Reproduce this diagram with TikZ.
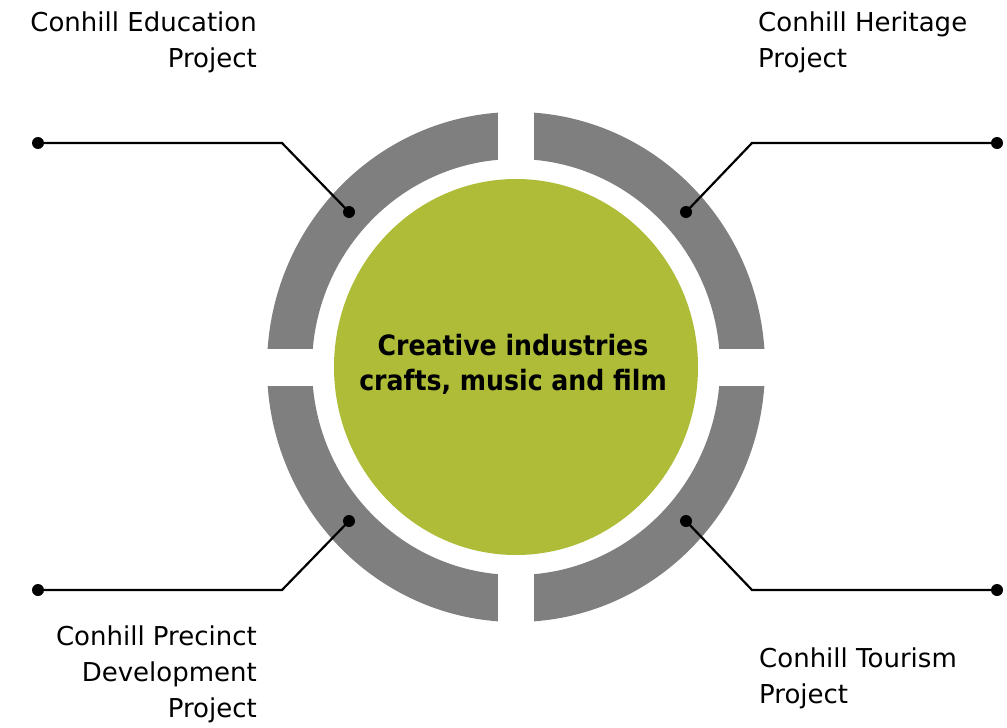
\documentclass[tikz,border=0pt]{standalone}
\usepackage{fontspec}
\setmainfont{DejaVu Sans}
\newfontfamily\hubfont{DejaVu Sans Condensed}
\definecolor{ringgray}{RGB}{127,127,127}
\definecolor{hubgreen}{RGB}{174,188,56}

\begin{document}
\begin{tikzpicture}[x=1pt,y=-1pt,
    proj/.style={inner sep=0pt, font=\fontsize{26}{36}\selectfont},
    hubtext/.style={inner sep=0pt, align=center, font=\hubfont\bfseries\fontsize{28}{35}\selectfont},
    lead/.style={line width=2.2pt, black}]
    % \draw[very thin,color=gray] (0,0) grid[step=50] (1007,728);
    \useasboundingbox (0,0) rectangle (1007,728);
    \coordinate (c) at (516,367);
    %ring
    \fill[ringgray, even odd rule] (c) ellipse [x radius=249, y radius=255] (c) ellipse [x radius=204, y radius=208];
    \fill[white] (498,100) rectangle (534,640);
    \fill[white] (255,349) rectangle (780,386);
    %hub
    \fill[hubgreen] (c) ellipse [x radius=182, y radius=188];
    \node[hubtext, anchor=base] (hub) at (513,390) {Creative industries\\crafts, music and film};
    %leads
    \coordinate (tl-pin) at (349,212);
    \coordinate (tl-bend) at (282,143);
    \coordinate (tl-end) at (38,143);
    \coordinate (tr-pin) at (686,212);
    \coordinate (tr-bend) at (752,143);
    \coordinate (tr-end) at (997,143);
    \coordinate (bl-pin) at (349,521);
    \coordinate (bl-bend) at (282,590);
    \coordinate (bl-end) at (38,590);
    \coordinate (br-pin) at (686,521);
    \coordinate (br-bend) at (752,590);
    \coordinate (br-end) at (997,590);
    \foreach \q in {tl,tr,bl,br} {
        \draw[lead] (\q-pin) -- (\q-bend) -- (\q-end);
        \fill (\q-pin) circle [radius=6];
        \fill (\q-end) circle [radius=6];
    }
    %labels
    \node[proj, align=right, anchor=base east] (edu) at (257,67) {Conhill Education\\Project};
    \node[proj, align=left, anchor=base west] (heritage) at (758,67) {Conhill Heritage\\Project};
    \node[proj, align=right, anchor=base east] (precinct) at (257,717) {Conhill Precinct\\Development\\Project};
    \node[proj, align=left, anchor=base west] (tourism) at (759,703) {Conhill Tourism\\Project};
\end{tikzpicture}
\end{document}
